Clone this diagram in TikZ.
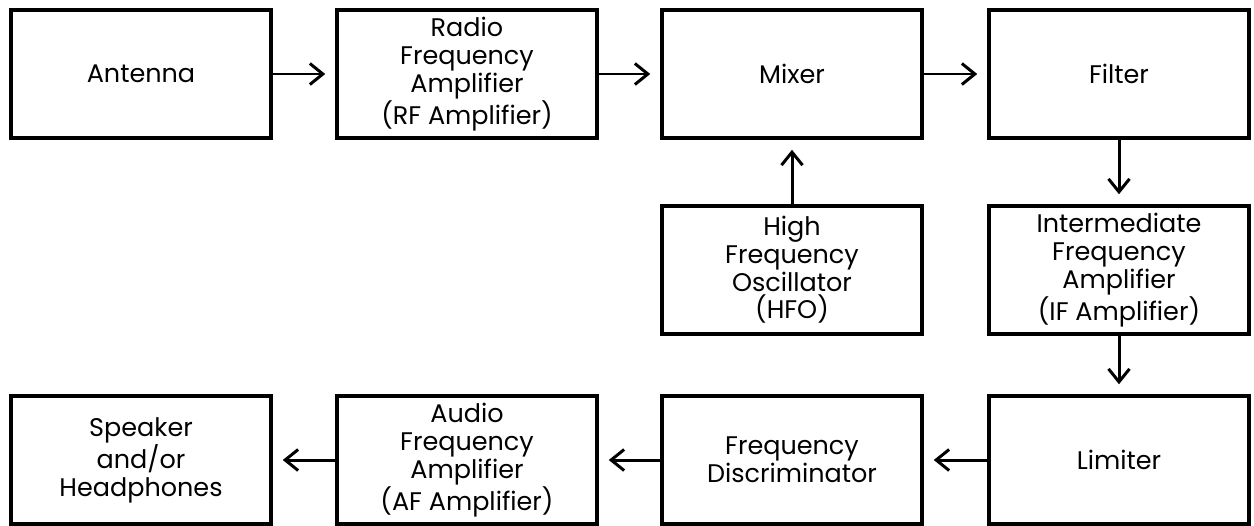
\documentclass[tikz,border=0pt]{standalone}
\usepackage{fontspec}
\setmainfont{Poppins}
\usepackage{tikz}
\usetikzlibrary{positioning, arrows.meta}

\begin{document}
\begin{tikzpicture}[
  box/.style={rectangle, draw, line width=2pt, minimum width=5.2cm, minimum height=2.56cm, font=\fontsize{14.5}{15.8}\selectfont, align=center, inner sep=0pt},
  arr/.style={-{Straight Barb[length=2.6mm, width=4.2mm]}, line width=1.7pt, shorten >=2mm},
]
  \useasboundingbox (0, 0) rectangle (25.08, -10.5);

  \node[box] (ant) at (2.82, -1.48) {Antenna};
  \node[box] (rf) at (9.34, -1.48) {Radio\\Frequency\\Amplifier\\(RF Amplifier)};
  \node[box] (mix) at (15.84, -1.48) {Mixer};
  \node[box] (filt) at (22.38, -1.48) {Filter};

  \node[box] (hfo) at (15.84, -5.4) {High\\Frequency\\Oscillator\\(HFO)};
  \node[box] (ifamp) at (22.38, -5.4) {Intermediate\\Frequency\\Amplifier\\(IF Amplifier)};

  \node[box] (spk) at (2.82, -9.2) {Speaker\\and/or\\Headphones};
  \node[box] (afamp) at (9.34, -9.2) {Audio\\Frequency\\Amplifier\\(AF Amplifier)};
  \node[box] (disc) at (15.84, -9.2) {Frequency\\Discriminator};
  \node[box] (lim) at (22.38, -9.2) {Limiter};

  \draw[arr] (ant) -- (rf);
  \draw[arr] (rf) -- (mix);
  \draw[arr] (mix) -- (filt);
  \draw[arr] (hfo) -- (mix);
  \draw[arr] (filt) -- (ifamp);
  \draw[arr] (ifamp) -- (lim);
  \draw[arr] (lim) -- (disc);
  \draw[arr] (disc) -- (afamp);
  \draw[arr] (afamp) -- (spk);
\end{tikzpicture}
\end{document}
